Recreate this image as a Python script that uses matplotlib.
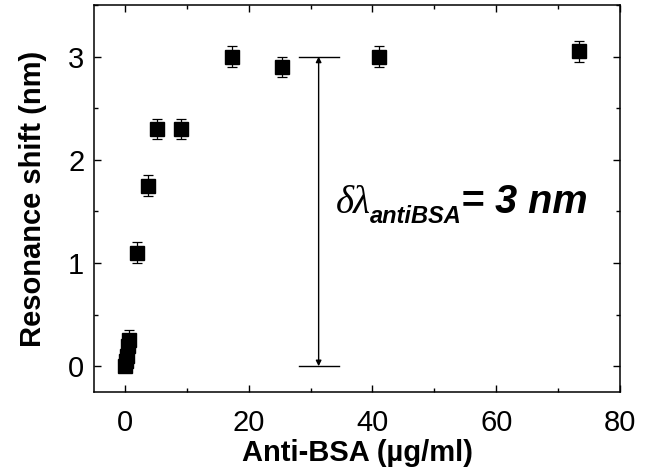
import matplotlib
matplotlib.use("Agg")
import matplotlib.pyplot as plt
from matplotlib.ticker import MultipleLocator
from matplotlib.transforms import offset_copy

conc = [0.0, 0.2, 0.4, 0.5, 0.6, 2.0, 3.7, 5.2, 9.0, 17.3, 25.4, 41.0, 73.3]
shift = [0.0, 0.05, 0.10, 0.20, 0.25, 1.10, 1.75, 2.30, 2.30, 3.00, 2.90, 3.00, 3.05]
err = [0.05, 0.05, 0.05, 0.08, 0.10, 0.10, 0.10, 0.10, 0.10, 0.10, 0.10, 0.10, 0.10]
xticks = [0, 20, 40, 60, 80]
yticks = [0, 1, 2, 3]
delta_x = 31.3
delta_lo, delta_hi = 0.0, 3.0

plt.rcParams['font.family'] = ['Liberation Sans', 'DejaVu Sans']

fig = plt.figure(figsize=(6.57, 4.73), dpi=100)
ax = fig.add_axes([94/657, 1-392/473, (620-94)/657, (392-5)/473])

ax.errorbar(conc, shift, yerr=err, fmt='s', color='black', ms=10.5,
            ecolor='black', elinewidth=0.9, capsize=3.5, capthick=0.9, zorder=3)

ax.set_xlim(-5, 80)
ax.set_ylim(-0.25, 3.5)
ax.set_xticks(xticks)
ax.set_yticks(yticks)
ax.xaxis.set_minor_locator(MultipleLocator(10))
ax.yaxis.set_minor_locator(MultipleLocator(0.5))
ax.tick_params(which='both', direction='in', top=True, right=True, width=1.0)
ax.tick_params(which='major', length=5, labelsize=21)
ax.tick_params(axis='x', which='major', pad=12)
ax.tick_params(axis='y', which='major', pad=7)
ax.tick_params(which='minor', length=3)
for s in ax.spines.values():
    s.set_linewidth(1.1)

ax.set_xlabel('Anti-BSA (\u00b5g/ml)', fontsize=21, fontweight='bold', labelpad=2)
ax.set_ylabel('Resonance shift (nm)', fontsize=21, fontweight='bold', labelpad=15)

# double arrow with horizontal bars
ax.plot([delta_x - 3.2, delta_x + 3.3], [delta_hi, delta_hi], color='black', lw=1.0)
ax.plot([delta_x - 3.2, delta_x + 3.3], [delta_lo, delta_lo], color='black', lw=1.0)
ax.annotate('', xy=(delta_x, delta_hi), xytext=(delta_x, delta_lo),
            arrowprops=dict(arrowstyle='<|-|>', color='black', lw=1.0,
                            mutation_scale=8, shrinkA=0, shrinkB=0))

# annotation text built from pieces
fig.canvas.draw()
renderer = fig.canvas.get_renderer()
x0, y0 = 34.1, 1.48
t1 = ax.text(x0, y0, '\u03b4\u03bb', fontsize=28, family='Liberation Serif',
             style='italic', va='baseline', ha='left')
bb = t1.get_window_extent(renderer)
tr2 = offset_copy(ax.transData, fig=fig, x=bb.width * 72 / fig.dpi - 1, y=-7, units='points')
t2 = ax.text(x0, y0, 'antiBSA', fontsize=17, fontweight='bold', style='italic',
             va='baseline', ha='left', transform=tr2)
bb2 = t2.get_window_extent(renderer)
tr3 = offset_copy(ax.transData, fig=fig, x=(bb.width + bb2.width) * 72 / fig.dpi - 1, y=0, units='points')
ax.text(x0, y0, '= 3 nm', fontsize=28.5, fontweight='bold', style='italic',
        va='baseline', ha='left', transform=tr3)

fig.savefig('out.png', dpi=100)
